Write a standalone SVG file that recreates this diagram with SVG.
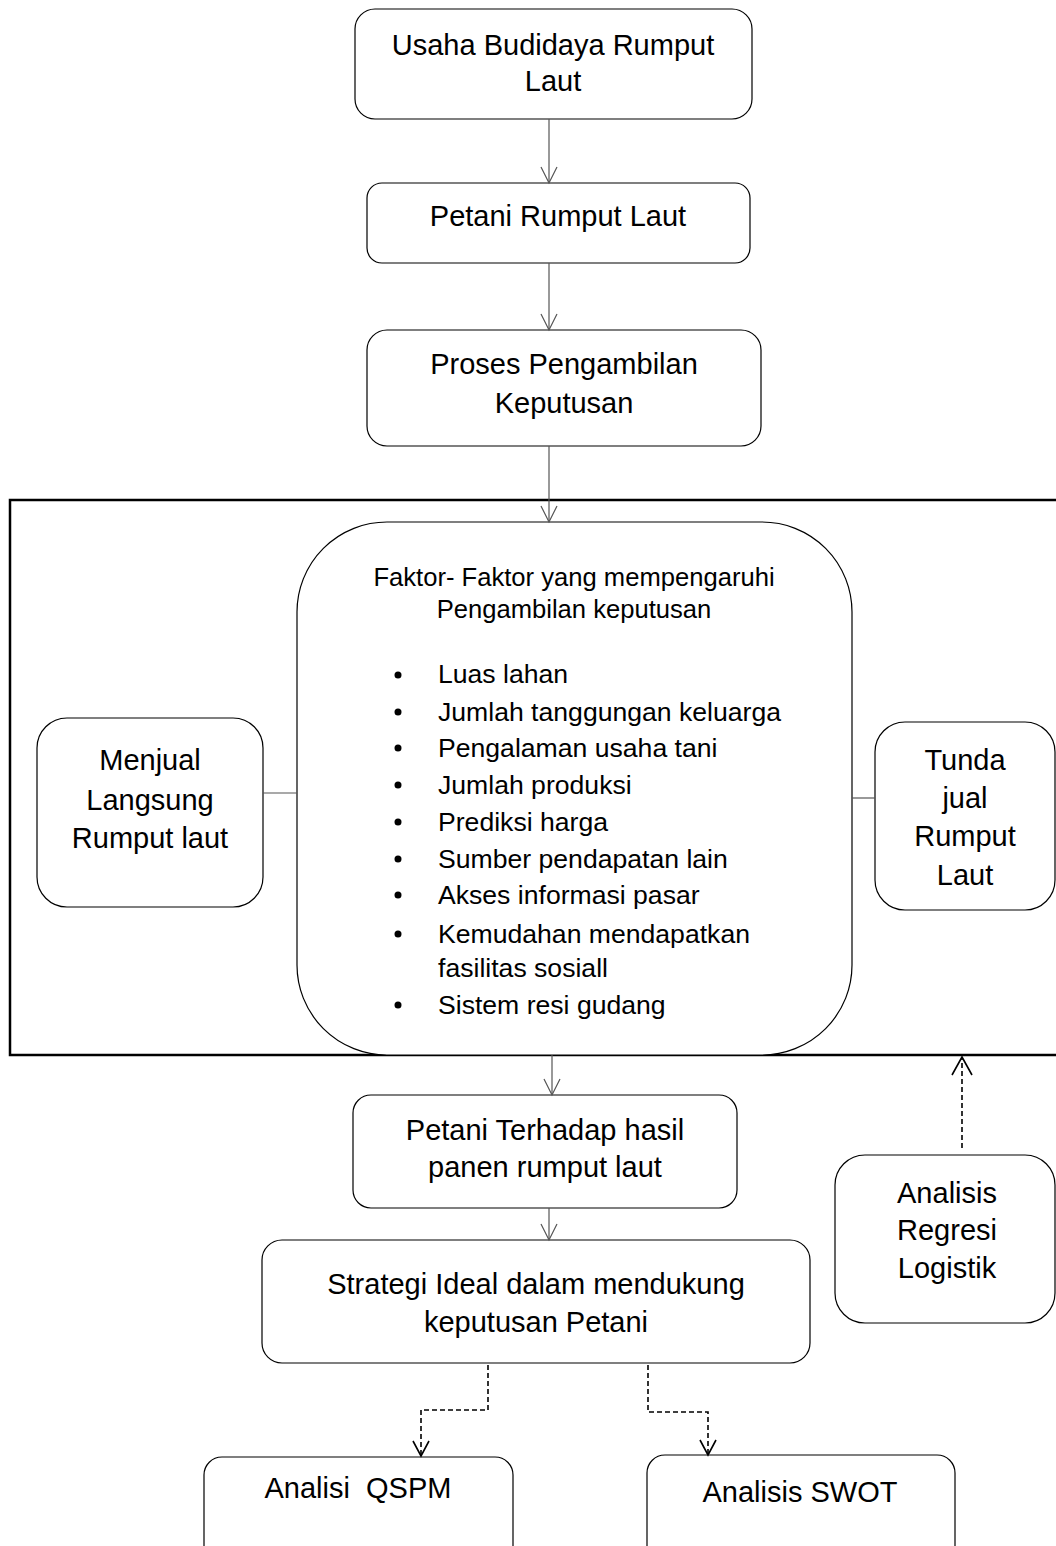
<svg xmlns="http://www.w3.org/2000/svg" width="1056" height="1546" viewBox="0 0 1056 1546">
<style>
.box{fill:#fff;stroke:#000;stroke-width:1.2}
.t{font-family:"Liberation Sans",Arial,sans-serif;font-size:29px;fill:#000;text-anchor:middle}
.l{font-family:"Liberation Sans",Arial,sans-serif;font-size:26.6px;fill:#000}
.h{font-family:"Liberation Sans",Arial,sans-serif;font-size:25.6px;fill:#000;text-anchor:middle}
.sol{stroke:#555;stroke-width:1.2;fill:none}
.dash{stroke:#000;stroke-width:1.6;fill:none;stroke-dasharray:5 3}
.head{stroke:#555;stroke-width:1.2;fill:none}
.headd{stroke:#000;stroke-width:1.6;fill:none}
</style>
<rect width="1056" height="1546" fill="#fff"/>
<g id="frame">
<path d="M1060 500 H10 V1055 H1060" fill="none" stroke="#000" stroke-width="2.5"/>
</g>
<g id="n1"><rect class="box" x="355" y="9" width="397" height="110" rx="20"/>
<text class="t" x="553" y="55">Usaha Budidaya Rumput</text><text class="t" x="553" y="91">Laut</text></g>
<g id="n2"><rect class="box" x="367" y="183" width="383" height="80" rx="15"/>
<text class="t" x="558" y="226">Petani Rumput Laut</text></g>
<g id="n3"><rect class="box" x="367" y="330" width="394" height="116" rx="20"/>
<text class="t" x="564" y="374">Proses Pengambilan</text><text class="t" x="564" y="413">Keputusan</text></g>
<g id="n4"><rect class="box" x="297" y="522" width="555" height="533" rx="90"/>
<text class="h" x="574" y="586">Faktor- Faktor yang mempengaruhi</text>
<text class="h" x="574" y="618">Pengambilan keputusan</text>
<g class="l">
<circle cx="398" cy="675" r="3.5"/><text x="438" y="683">Luas lahan</text>
<circle cx="398" cy="712" r="3.5"/><text x="438" y="721">Jumlah tanggungan keluarga</text>
<circle cx="398" cy="748" r="3.5"/><text x="438" y="757">Pengalaman usaha tani</text>
<circle cx="398" cy="785" r="3.5"/><text x="438" y="794">Jumlah produksi</text>
<circle cx="398" cy="822" r="3.5"/><text x="438" y="831">Prediksi harga</text>
<circle cx="398" cy="859" r="3.5"/><text x="438" y="868">Sumber pendapatan lain</text>
<circle cx="398" cy="895" r="3.5"/><text x="438" y="904">Akses informasi pasar</text>
<circle cx="398" cy="934" r="3.5"/><text x="438" y="943">Kemudahan mendapatkan</text>
<text x="438" y="977">fasilitas sosiall</text>
<circle cx="398" cy="1005" r="3.5"/><text x="438" y="1014">Sistem resi gudang</text>
</g></g>
<g id="n5"><rect class="box" x="37" y="718" width="226" height="189" rx="30"/>
<text class="t" x="150" y="770">Menjual</text><text class="t" x="150" y="810">Langsung</text><text class="t" x="150" y="848">Rumput laut</text></g>
<g id="n6"><rect class="box" x="875" y="722" width="180" height="188" rx="30"/>
<text class="t" x="965" y="770">Tunda</text><text class="t" x="965" y="808">jual</text><text class="t" x="965" y="846">Rumput</text><text class="t" x="965" y="885">Laut</text></g>
<g id="n7"><rect class="box" x="353" y="1095" width="384" height="113" rx="18"/>
<text class="t" x="545" y="1140">Petani Terhadap hasil</text><text class="t" x="545" y="1177">panen rumput laut</text></g>
<g id="n8"><rect class="box" x="262" y="1240" width="548" height="123" rx="20"/>
<text class="t" x="536" y="1294">Strategi Ideal dalam mendukung</text><text class="t" x="536" y="1332">keputusan Petani</text></g>
<g id="n9"><rect class="box" x="835" y="1155" width="220" height="168" rx="30"/>
<text class="t" x="947" y="1203">Analisis</text><text class="t" x="947" y="1240">Regresi</text><text class="t" x="947" y="1278">Logistik</text></g>
<g id="n10"><rect class="box" x="204" y="1457" width="309" height="120" rx="18"/>
<text class="t" x="358" y="1498" xml:space="preserve">Analisi  QSPM</text></g>
<g id="n11"><rect class="box" x="647" y="1455" width="308" height="120" rx="18"/>
<text class="t" x="800" y="1502">Analisis SWOT</text></g>
<g id="connectors">
<path class="sol" d="M549 119 V183"/><path class="head" d="M541 167 L549 183 L557 167"/>
<path class="sol" d="M549 263 V330"/><path class="head" d="M541 314 L549 330 L557 314"/>
<path class="sol" d="M549 446 V522"/><path class="head" d="M541 506 L549 522 L557 506"/>
<path class="sol" d="M263 793 H297"/>
<path class="sol" d="M852 798 H875"/>
<path class="sol" d="M552 1055 V1095"/><path class="head" d="M544 1079 L552 1095 L560 1079"/>
<path class="sol" d="M549 1208 V1240"/><path class="head" d="M541 1224 L549 1240 L557 1224"/>
<path class="dash" d="M962 1148 V1058" stroke-width="2"/><path class="headd" d="M952 1075 L962 1057 L972 1075" stroke-width="2"/>
<path class="dash" d="M488 1365 V1410 H421 V1455"/><path class="headd" d="M413 1441 L421 1456 L429 1441"/>
<path class="dash" d="M648 1365 V1412 H708 V1453"/><path class="headd" d="M700 1440 L708 1455 L716 1440"/>
</g>
</svg>
